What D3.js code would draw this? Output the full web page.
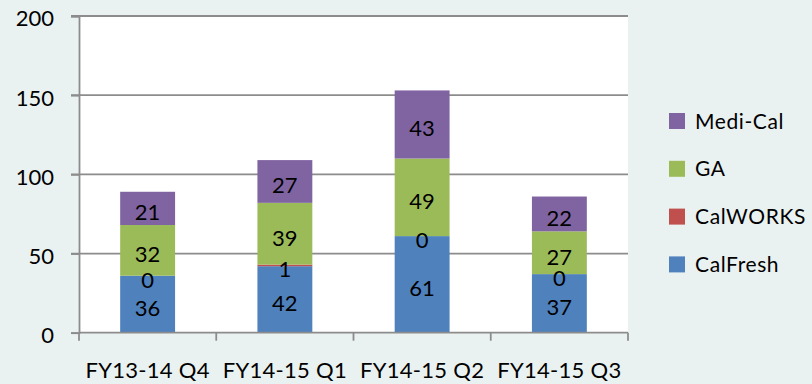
<!DOCTYPE html>
<html>
<head>
<meta charset="utf-8">
<script src="https://cdn.jsdelivr.net/npm/d3@7"></script>
<style>
  html, body { margin: 0; padding: 0; background: #eaf2f1; }
  svg { display: block; }
  text { font-family: Lato, "Open Sans", sans-serif; fill: #000; }
</style>
</head>
<body>
<div id="chart"></div>
<script>
// quarters on the x axis
var categories = ["FY13-14 Q4", "FY14-15 Q1", "FY14-15 Q2", "FY14-15 Q3"];

// series, bottom to top
var seriesNames = ["CalFresh", "CalWORKS", "GA", "Medi-Cal"];
var calFresh = [36, 42, 61, 37];
var calWorks = [0, 1, 0, 0];
var ga = [32, 39, 49, 27];
var mediCal = [21, 27, 43, 22];

var yTicks = [0, 50, 100, 150, 200];

var colors = {
  "CalFresh": "#4f81bd",
  "CalWORKS": "#c0504d",
  "GA": "#9bbb59",
  "Medi-Cal": "#8064a2"
};

var rows = categories.map(function(c, i) {
  return {
    cat: c,
    "CalFresh": calFresh[i],
    "CalWORKS": calWorks[i],
    "GA": ga[i],
    "Medi-Cal": mediCal[i]
  };
});

var width = 812, height = 384;
var plot = { left: 79, right: 628, top: 16, bottom: 332.7 };

var svg = d3.select("#chart").append("svg")
  .attr("width", width)
  .attr("height", height);

var x = d3.scaleBand()
  .domain(categories)
  .range([plot.left, plot.right])
  .paddingInner(0.6)
  .paddingOuter(0.3);

var y = d3.scaleLinear()
  .domain([0, 200])
  .range([plot.bottom, plot.top]);

// plot background
svg.append("rect")
  .attr("x", plot.left)
  .attr("y", plot.top)
  .attr("width", plot.right - plot.left)
  .attr("height", plot.bottom - plot.top)
  .attr("fill", "#fff");

// gridlines
svg.append("g")
  .selectAll("line")
  .data(yTicks.slice(1))
  .enter().append("line")
  .attr("x1", plot.left - 8)
  .attr("x2", plot.right)
  .attr("y1", function(d) { return y(d); })
  .attr("y2", function(d) { return y(d); })
  .attr("stroke", "#8c8c8c")
  .attr("stroke-width", 1.8);

var stack = d3.stack().keys(seriesNames);
var layers = stack(rows);

var bars = svg.append("g")
  .selectAll("g")
  .data(layers)
  .enter().append("g")
  .attr("fill", function(d) { return colors[d.key]; });

bars.selectAll("rect")
  .data(function(d) { return d; })
  .enter().append("rect")
  .attr("x", function(d) { return x(d.data.cat); })
  .attr("width", x.bandwidth())
  .attr("y", function(d) { return y(d[1]); })
  .attr("height", function(d) { return y(d[0]) - y(d[1]); });

// value labels
var labels = svg.append("g");
layers.forEach(function(layer) {
  layer.forEach(function(d) {
    labels.append("text")
      .attr("x", x(d.data.cat) + x.bandwidth() / 2)
      .attr("y", (y(d[0]) + y(d[1])) / 2 + 4)
      .attr("dy", "0.36em")
      .attr("text-anchor", "middle")
      .style("font-size", "22px")
      .text(d[1] - d[0]);
  });
});

// y axis
var yAxis = d3.axisLeft(y)
  .tickValues(yTicks)
  .tickSize(8)
  .tickPadding(17);

var gy = svg.append("g")
  .attr("transform", "translate(" + plot.left + ",0)")
  .call(yAxis);
gy.select(".domain").attr("stroke", "#8c8c8c").attr("stroke-width", 1.8);
gy.selectAll(".tick line").attr("stroke", "#8c8c8c").attr("stroke-width", 1.8);
gy.selectAll(".tick text")
  .attr("dy", "0.45em")
  .style("font-size", "22px")
  .style("font-family", "Lato, sans-serif");

// x axis
var xAxis = d3.axisBottom(x)
  .tickSize(0)
  .tickPadding(30);

var gx = svg.append("g")
  .attr("transform", "translate(0," + plot.bottom + ")")
  .call(xAxis);
gx.select(".domain").remove();
gx.selectAll(".tick text")
  .style("font-size", "22px")
  .style("letter-spacing", "0.3px")
  .style("font-family", "Lato, sans-serif");

gx.append("line")
  .attr("x1", plot.left)
  .attr("x2", plot.right)
  .attr("stroke", "#8c8c8c")
  .attr("stroke-width", 1.8);

// category boundary ticks
var bounds = d3.range(categories.length + 1).map(function(i) {
  return plot.left + i * (plot.right - plot.left) / categories.length;
});
gx.selectAll(".sep")
  .data(bounds)
  .enter().append("line")
  .attr("class", "sep")
  .attr("x1", function(d) { return d; })
  .attr("x2", function(d) { return d; })
  .attr("y1", 0)
  .attr("y2", 8)
  .attr("stroke", "#8c8c8c")
  .attr("stroke-width", 1.8);

// legend, top to bottom
var legendOrder = seriesNames.slice().reverse();
var legend = svg.append("g")
  .selectAll("g")
  .data(legendOrder)
  .enter().append("g")
  .attr("transform", function(d, i) { return "translate(669," + (113 + i * 47.8) + ")"; });

legend.append("rect")
  .attr("width", 16)
  .attr("height", 16)
  .attr("fill", function(d) { return colors[d]; });

legend.append("text")
  .attr("x", 26)
  .attr("y", 8)
  .attr("dy", "0.36em")
  .style("font-size", "21px")
  .style("letter-spacing", "0.6px")
  .text(function(d) { return d; });
</script>
</body>
</html>
